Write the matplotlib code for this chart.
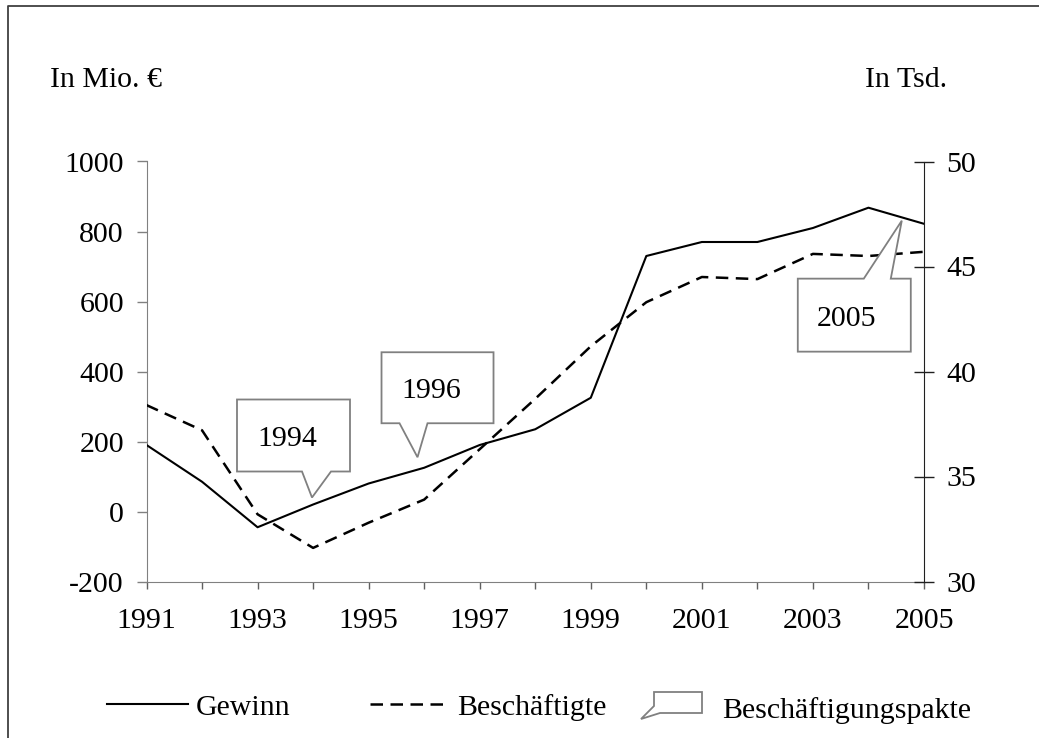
import numpy as np
import matplotlib.pyplot as plt
from matplotlib.lines import Line2D
from matplotlib.patches import Polygon
from matplotlib.transforms import IdentityTransform

plt.rcParams['font.family'] = ['Liberation Serif', 'DejaVu Serif']
plt.rcParams['axes.unicode_minus'] = False

# data
years = list(range(1991, 2006))
gewinn = [190, 85, -45, 20, 80, 125, 190, 235, 325, 730, 770, 770, 810, 868, 822]          # Mio. EUR
beschaeftigte = [38.4, 37.2, 33.2, 31.6, 32.8, 33.9, 36.3, 38.7, 41.2, 43.3,
                 44.5, 44.4, 45.6, 45.5, 45.7]                                                # Tsd.

callout_labels = ["1994", "1996", "2005"]
callout_tip_x = [1993.98, 1995.88, 2004.6]
callout_tip_y = [40, 155, 831]

FS = 21.5
W, H = 1039, 738
fig = plt.figure(figsize=(W / 100, H / 100), dpi=100)

def fx(x):
    return x / W

def fy(y):
    return 1 - y / H

ax = fig.add_axes([fx(146.5), fy(581.5), (924 - 146.5) / W, (581.5 - 161.5) / H])
ax2 = ax.twinx()

ax.plot(years, gewinn, color='black', lw=1.5, zorder=3)
ax2.plot(years, beschaeftigte, color='black', lw=1.8, dashes=(5, 3), zorder=3)

ax.set_xlim(1991, 2005)
ax.set_ylim(-200, 1000)
ax2.set_ylim(30, 50)
ax.set_yticks(range(-200, 1001, 200))
ax2.set_yticks(range(30, 51, 5))
ax.set_xticks(years)
ax.set_xticklabels([str(y) if y % 2 == 1 else '' for y in years])

for a in (ax, ax2):
    a.spines['top'].set_visible(False)
    a.patch.set_visible(False)
ax.spines['right'].set_visible(False)
ax.spines['left'].set_color('#808080')
ax.spines['bottom'].set_color('#808080')
ax2.spines['left'].set_visible(False)
ax2.spines['bottom'].set_visible(False)
ax2.spines['right'].set_color('#202020')

ax.tick_params(axis='y', direction='out', length=7.2, width=1, color='#808080', pad=9, labelsize=FS)
ax.tick_params(axis='x', direction='out', length=5, width=1, color='#606060', pad=14, labelsize=FS)
ax2.tick_params(axis='y', direction='inout', length=14.4, width=1, color='#202020', pad=9, labelsize=FS)

# callouts (Beschäftigungspakte)
box_geom = {
    "1994": dict(box=(-75, 38, 26, 98), base=(-10, 19), top=False, text=(-25, 51)),
    "1996": dict(box=(-36, 76, 34, 105), base=(-18, 10), top=False, text=(14, 59)),
    "2005": dict(box=(-104, 9, -131, -58), base=(-38, -11), top=True, text=(-55, -105)),
}
for lab, tx, ty in zip(callout_labels, callout_tip_x, callout_tip_y):
    px, py = ax.transData.transform((tx, ty))
    g = box_geom[lab]
    x0, x1, y0, y1 = g['box']
    b0, b1 = g['base']
    if not g['top']:
        verts = [(x0, y1), (x1, y1), (x1, y0), (b1, y0), (0, 0), (b0, y0), (x0, y0)]
    else:
        verts = [(x0, y1), (b0, y1), (0, 0), (b1, y1), (x1, y1), (x1, y0), (x0, y0)]
    verts = [(px + vx, py + vy) for vx, vy in verts]
    fig.patches.append(Polygon(verts, closed=True, facecolor='white', edgecolor='#808080',
                               lw=1.3, transform=IdentityTransform(), zorder=5))
    fig.text((px + g['text'][0]) / W, (py + g['text'][1]) / H, lab, fontsize=FS,
             ha='center', va='baseline', zorder=6)

# axis unit labels
fig.text(fx(50), fy(87), 'In Mio. €', fontsize=FS, ha='left', va='baseline')
fig.text(fx(947), fy(87), 'In Tsd.', fontsize=FS, ha='right', va='baseline')

# legend
fig.add_artist(Line2D([fx(107), fx(188)], [fy(704), fy(704)], color='black', lw=1.5))
fig.text(fx(196), fy(715), 'Gewinn', fontsize=FS, ha='left', va='baseline')
fig.add_artist(Line2D([fx(370), fx(448)], [fy(704), fy(704)], color='black', lw=1.8, dashes=(5, 3)))
fig.text(fx(457), fy(715), 'Beschäftigte', fontsize=FS, ha='left', va='baseline')
icon = [(654, 692), (702, 692), (702, 713), (660, 713), (641, 719), (654, 706)]
fig.patches.append(Polygon([(fx(x), fy(y)) for x, y in icon], closed=True, facecolor='white',
                           edgecolor='#808080', lw=1.3, transform=fig.transFigure))
fig.text(fx(722), fy(718), 'Beschäftigungspakte', fontsize=FS, ha='left', va='baseline')

# outer frame (cut off at right and bottom)
fig.add_artist(Line2D([fx(8), fx(8), fx(1045)], [fy(745), fy(6), fy(6)], color='#404040', lw=1.3))

fig.savefig('out.png', dpi=100)
